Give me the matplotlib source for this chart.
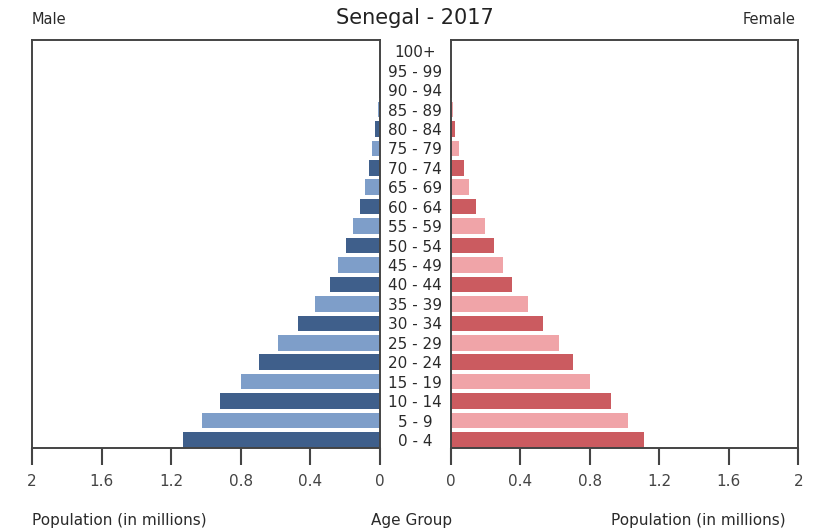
import matplotlib
matplotlib.use("Agg")
import matplotlib.pyplot as plt
from matplotlib.transforms import blended_transform_factory

age_groups = ["0 - 4", "5 - 9", "10 - 14", "15 - 19", "20 - 24", "25 - 29", "30 - 34",
              "35 - 39", "40 - 44", "45 - 49", "50 - 54", "55 - 59", "60 - 64", "65 - 69",
              "70 - 74", "75 - 79", "80 - 84", "85 - 89", "90 - 94", "95 - 99", "100+"]
male = [1.135, 1.025, 0.92, 0.80, 0.697, 0.584, 0.473, 0.372, 0.289, 0.243, 0.195,
        0.153, 0.115, 0.084, 0.065, 0.044, 0.027, 0.010, 0.004, 0.001, 0.0003]
female = [1.114, 1.018, 0.921, 0.80, 0.705, 0.621, 0.533, 0.445, 0.355, 0.303, 0.251,
          0.195, 0.146, 0.107, 0.077, 0.050, 0.027, 0.015, 0.006, 0.002, 0.0005]
xticks = [0, 0.4, 0.8, 1.2, 1.6, 2]
xticklabels = ["0", "0.4", "0.8", "1.2", "1.6", "2"]

male_colors = ["#3f5f8b", "#7e9ec9"]
female_colors = ["#cb5b60", "#f0a4a8"]
spine_c = "#444444"
text_c = "#2a2a2a"
fs = 11

W, H = 815, 531
fig = plt.figure(figsize=(W / 100, H / 100), dpi=100)
ax_l = fig.add_axes([32 / W, (H - 447.7) / H, (380 - 32) / W, (447.7 - 39.5) / H])
ax_r = fig.add_axes([450.7 / W, (H - 447.7) / H, (798.3 - 450.7) / W, (447.7 - 39.5) / H])

y = list(range(len(age_groups)))
ax_l.barh(y, male, height=0.8, color=[male_colors[i % 2] for i in y], linewidth=0)
ax_r.barh(y, female, height=0.8, color=[female_colors[i % 2] for i in y], linewidth=0)

for ax in (ax_l, ax_r):
    ax.set_ylim(-0.4, len(age_groups) - 0.4)
    ax.set_yticks([])
    ax.set_xticks(xticks)
    ax.set_xticklabels(xticklabels, fontsize=fs, color="#444444")
    ax.tick_params(axis="x", direction="out", length=12, width=1.5, color=spine_c, pad=7)
    for s in ax.spines.values():
        s.set_color(spine_c)
        s.set_linewidth(1.4)
ax_l.set_xlim(2, 0)
ax_r.set_xlim(0, 2)

trans = blended_transform_factory(fig.transFigure, ax_l.transData)
for i, lab in enumerate(age_groups):
    ax_l.text(415 / W, i - 0.08, lab, transform=trans, ha="center", va="center",
              fontsize=fs, color=text_c, clip_on=False)

fig.text(415 / W, 1 - 18 / H, "Senegal - 2017", ha="center", va="center", fontsize=15, color="#222222")
fig.text(32 / W, 1 - 20 / H, "Male", ha="left", va="center", fontsize=10.5, color=text_c)
fig.text(796 / W, 1 - 20 / H, "Female", ha="right", va="center", fontsize=10.5, color=text_c)
fig.text(32 / W, 1 - 520 / H, "Population (in millions)", ha="left", va="center", fontsize=fs, color=text_c)
fig.text(412 / W, 1 - 520 / H, "Age Group", ha="center", va="center", fontsize=fs, color=text_c)
fig.text(786 / W, 1 - 520 / H, "Population (in millions)", ha="right", va="center", fontsize=fs, color=text_c)

fig.savefig("out.png", dpi=100)
